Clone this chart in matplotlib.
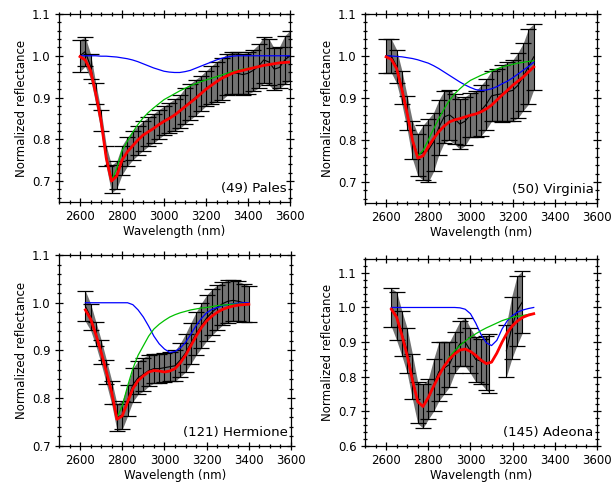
import numpy as np
import matplotlib
matplotlib.use('Agg')
import matplotlib.pyplot as plt
from matplotlib.ticker import MultipleLocator, FormatStrFormatter

# ---- (49) Pales ----
pales_wl = [2600, 2625, 2650, 2675, 2700, 2725, 2750, 2775, 2800, 2825, 2850,
            2875, 2900, 2925, 2950, 2975, 3000, 3025, 3050, 3075, 3100, 3125,
            3150, 3175, 3200, 3225, 3250, 3275, 3300, 3325, 3350, 3375, 3400,
            3425, 3450, 3475, 3500, 3525, 3550, 3575, 3600]
pales_refl = [1.000, 1.010, 0.975, 0.910, 0.845, 0.760, 0.705, 0.715, 0.750, 0.770,
              0.785, 0.797, 0.808, 0.818, 0.826, 0.836, 0.845, 0.852, 0.858, 0.866,
              0.880, 0.890, 0.900, 0.910, 0.922, 0.930, 0.938, 0.944, 0.955, 0.958,
              0.958, 0.955, 0.958, 0.965, 0.975, 0.990, 0.985, 0.968, 0.972, 0.990,
              1.000]
pales_err = [0.038, 0.035, 0.030, 0.025, 0.025, 0.025, 0.033, 0.033, 0.035, 0.035,
             0.035, 0.035, 0.035, 0.035, 0.035, 0.035, 0.034, 0.036, 0.038, 0.040,
             0.043, 0.043, 0.043, 0.042, 0.042, 0.045, 0.048, 0.050, 0.050, 0.050,
             0.050, 0.050, 0.050, 0.050, 0.052, 0.055, 0.055, 0.050, 0.050, 0.058,
             0.060]
pales_model_wl = pales_wl
pales_total = [0.998, 0.990, 0.965, 0.910, 0.845, 0.755, 0.700, 0.712, 0.750, 0.770,
               0.784, 0.798, 0.810, 0.818, 0.826, 0.835, 0.843, 0.850, 0.858, 0.868,
               0.878, 0.888, 0.898, 0.909, 0.920, 0.929, 0.938, 0.946, 0.952, 0.958,
               0.962, 0.965, 0.968, 0.971, 0.974, 0.977, 0.979, 0.981, 0.983, 0.984,
               0.985]
pales_oh = [0.998, 0.990, 0.965, 0.910, 0.845, 0.755, 0.702, 0.730, 0.772, 0.795,
            0.816, 0.835, 0.851, 0.864, 0.875, 0.885, 0.895, 0.902, 0.909, 0.916,
            0.922, 0.928, 0.933, 0.938, 0.942, 0.946, 0.950, 0.954, 0.958, 0.962,
            0.965, 0.968, 0.970, 0.972, 0.974, 0.977, 0.979, 0.981, 0.983, 0.984,
            0.985]
pales_h2o = [1.000, 1.000, 1.000, 1.000, 0.999, 0.999, 0.998, 0.997, 0.995, 0.993,
             0.990, 0.986, 0.981, 0.976, 0.971, 0.967, 0.963, 0.961, 0.960, 0.960,
             0.962, 0.965, 0.970, 0.975, 0.980, 0.985, 0.990, 0.994, 0.997, 0.999,
             1.000, 1.000, 1.000, 1.000, 1.000, 1.000, 1.000, 1.000, 1.000, 1.000,
             1.000]

# ---- (50) Virginia ----
virginia_wl = [2600, 2625, 2650, 2675, 2700, 2725, 2750, 2775, 2800, 2825, 2850,
               2875, 2900, 2925, 2950, 2975, 3000, 3025, 3050, 3075, 3100, 3125,
               3150, 3175, 3200, 3225, 3250, 3275, 3300]
virginia_refl = [1.000, 1.000, 0.975, 0.925, 0.865, 0.800, 0.765, 0.770, 0.775, 0.795,
                 0.830, 0.855, 0.860, 0.850, 0.838, 0.845, 0.860, 0.862, 0.870, 0.885,
                 0.905, 0.908, 0.910, 0.915, 0.918, 0.930, 0.950, 0.975, 0.998]
virginia_err = [0.040, 0.040, 0.040, 0.040, 0.040, 0.045, 0.050, 0.065, 0.075, 0.070,
                0.065, 0.062, 0.060, 0.060, 0.060, 0.058, 0.052, 0.055, 0.060, 0.060,
                0.060, 0.062, 0.068, 0.070, 0.072, 0.078, 0.080, 0.090, 0.078]
virginia_model_wl = virginia_wl
virginia_total = [0.998, 0.992, 0.970, 0.920, 0.863, 0.800, 0.757, 0.762, 0.784, 0.803,
                  0.820, 0.833, 0.843, 0.848, 0.851, 0.855, 0.859, 0.862, 0.867, 0.874,
                  0.883, 0.895, 0.907, 0.918, 0.930, 0.940, 0.950, 0.962, 0.974]
virginia_oh = [0.998, 0.992, 0.970, 0.920, 0.864, 0.802, 0.762, 0.775, 0.800, 0.826,
               0.851, 0.874, 0.894, 0.910, 0.922, 0.933, 0.942, 0.948, 0.954, 0.959,
               0.964, 0.969, 0.974, 0.977, 0.980, 0.983, 0.985, 0.987, 0.989]
virginia_h2o = [1.000, 1.000, 0.999, 0.998, 0.996, 0.994, 0.991, 0.987, 0.983, 0.977,
                0.970, 0.962, 0.954, 0.946, 0.938, 0.931, 0.925, 0.920, 0.918, 0.919,
                0.922, 0.927, 0.934, 0.940, 0.948, 0.957, 0.966, 0.975, 0.985]

# ---- (121) Hermione ----
hermione_wl = [2625, 2650, 2675, 2700, 2725, 2750, 2775, 2800, 2825, 2850, 2875,
               2900, 2925, 2950, 2975, 3000, 3025, 3050, 3075, 3100, 3125, 3150,
               3175, 3200, 3225, 3250, 3275, 3300, 3325, 3350, 3375, 3400]
hermione_refl = [0.993, 0.970, 0.935, 0.897, 0.855, 0.812, 0.760, 0.765, 0.795, 0.828,
                 0.843, 0.850, 0.858, 0.862, 0.862, 0.864, 0.866, 0.868, 0.880, 0.895,
                 0.915, 0.935, 0.952, 0.968, 0.980, 0.990, 0.998, 1.003, 1.005, 1.003,
                 1.000, 0.998]
hermione_err = [0.032, 0.028, 0.025, 0.025, 0.025, 0.025, 0.028, 0.030, 0.032, 0.035,
                0.035, 0.035, 0.033, 0.030, 0.030, 0.030, 0.030, 0.032, 0.035, 0.040,
                0.043, 0.045, 0.047, 0.048, 0.048, 0.047, 0.045, 0.045, 0.043, 0.042,
                0.040, 0.038]
hermione_model_wl = hermione_wl
hermione_total = [0.985, 0.966, 0.933, 0.896, 0.855, 0.812, 0.756, 0.763, 0.792, 0.820,
                  0.837, 0.847, 0.855, 0.858, 0.857, 0.855, 0.857, 0.862, 0.874, 0.890,
                  0.910, 0.930, 0.948, 0.962, 0.972, 0.980, 0.986, 0.990, 0.993, 0.995,
                  0.996, 0.997]
hermione_oh = [0.986, 0.966, 0.933, 0.896, 0.855, 0.812, 0.760, 0.784, 0.825, 0.862,
               0.890, 0.910, 0.930, 0.945, 0.955, 0.963, 0.970, 0.975, 0.979, 0.982,
               0.985, 0.987, 0.989, 0.990, 0.992, 0.994, 0.995, 0.996, 0.997, 0.997,
               0.998, 0.998]
hermione_h2o = [1.000, 1.000, 1.000, 1.000, 1.000, 1.000, 1.000, 1.000, 1.000, 0.996,
                0.985, 0.970, 0.951, 0.930, 0.914, 0.903, 0.896, 0.898, 0.905, 0.917,
                0.934, 0.952, 0.967, 0.979, 0.986, 0.990, 0.994, 0.996, 0.998, 0.999,
                1.000, 1.000]

# ---- (145) Adeona ----
adeona_wl = [2625, 2650, 2675, 2700, 2725, 2750, 2775, 2800, 2825, 2850, 2875,
             2900, 2925, 2950, 2975, 3000, 3025, 3050, 3075, 3090,
             3170, 3195, 3220, 3245]
adeona_refl = [1.000, 0.975, 0.925, 0.875, 0.800, 0.725, 0.715, 0.735, 0.775, 0.815,
               0.825, 0.835, 0.870, 0.895, 0.900, 0.875, 0.850, 0.845, 0.840, 0.838,
               0.875, 0.940, 0.990, 1.015]
adeona_err = [0.055, 0.070, 0.065, 0.065, 0.065, 0.060, 0.063, 0.058, 0.075, 0.085,
              0.075, 0.065, 0.060, 0.065, 0.070, 0.065, 0.065, 0.065, 0.078, 0.085,
              0.075, 0.090, 0.100, 0.090]
adeona_model_wl = [2625, 2650, 2675, 2700, 2725, 2750, 2775, 2800, 2825, 2850, 2875,
                   2900, 2925, 2950, 2975, 3000, 3025, 3050, 3075, 3100, 3125, 3150,
                   3175, 3200, 3225, 3250, 3275, 3300]
adeona_total = [0.995, 0.972, 0.920, 0.861, 0.790, 0.728, 0.714, 0.740, 0.772, 0.803,
                0.830, 0.851, 0.866, 0.877, 0.880, 0.873, 0.862, 0.848, 0.838, 0.842,
                0.868, 0.900, 0.928, 0.948, 0.962, 0.972, 0.978, 0.982]
adeona_oh = [0.995, 0.972, 0.920, 0.861, 0.790, 0.728, 0.714, 0.740, 0.772, 0.803,
             0.831, 0.857, 0.875, 0.890, 0.903, 0.914, 0.924, 0.933, 0.941, 0.948,
             0.955, 0.962, 0.967, 0.972, 0.975, 0.977, 0.980, 0.982]
adeona_h2o = [1.000, 1.000, 1.000, 1.000, 1.000, 1.000, 1.000, 1.000, 1.000, 1.000,
              1.000, 1.000, 1.000, 0.999, 0.995, 0.982, 0.955, 0.922, 0.898, 0.890,
              0.905, 0.938, 0.962, 0.977, 0.987, 0.993, 0.997, 1.000]

W, H = 612, 493


def segments(wl):
    # split where the data has a gap
    wl = np.asarray(wl)
    cuts = np.where(np.diff(wl) > 40)[0] + 1
    return np.split(np.arange(len(wl)), cuts)


def draw_panel(rect, wl, refl, err, mwl, total, oh, h2o, label, ylim):
    left, top, right, bottom = rect
    ax = fig.add_axes([left / W, 1 - bottom / H, (right - left) / W, (bottom - top) / H])
    wl = np.asarray(wl, float)
    refl = np.asarray(refl)
    err = np.asarray(err)

    for idx in segments(wl):
        ax.fill_between(wl[idx], refl[idx] - err[idx], refl[idx] + err[idx],
                        color='0.45', lw=0, zorder=1)
        ax.plot(wl[idx], refl[idx], color='black', lw=0.8, zorder=3)
    ax.errorbar(wl, refl, yerr=err, fmt='none', ecolor='black', elinewidth=0.8,
                capsize=6, capthick=0.9, zorder=2)

    ax.plot(mwl, h2o, color='#0000ff', lw=0.9, zorder=4)
    ax.plot(mwl, oh, color='#00c000', lw=0.9, zorder=5)
    ax.plot(mwl, total, color='#ff0000', lw=2.0, zorder=6)

    ax.set_xlim(2500, 3600)
    ax.set_ylim(*ylim)
    ax.xaxis.set_major_locator(MultipleLocator(200))
    ax.xaxis.set_minor_locator(MultipleLocator(50))
    ax.yaxis.set_major_locator(MultipleLocator(0.1))
    ax.yaxis.set_minor_locator(MultipleLocator(0.02))
    ax.yaxis.set_major_formatter(FormatStrFormatter('%.1f'))
    ax.tick_params(which='both', direction='inout', top=True, right=True,
                   width=0.9, labelsize=8.5, pad=3)
    ax.tick_params(which='major', length=6)
    ax.tick_params(which='minor', length=3.5)
    for s in ax.spines.values():
        s.set_linewidth(0.9)
    ax.set_xlabel('Wavelength (nm)', fontsize=8.5, labelpad=1)
    ax.set_ylabel('Normalized reflectance', fontsize=8.5, labelpad=3)
    ax.text(0.985, 0.035, label, transform=ax.transAxes, ha='right', va='bottom',
            fontsize=9.5)
    return ax


fig = plt.figure(figsize=(W / 100, H / 100), dpi=100)

draw_panel((59, 14, 290, 202), pales_wl, pales_refl, pales_err, pales_model_wl,
           pales_total, pales_oh, pales_h2o, '(49) Pales', (0.65, 1.1))
draw_panel((365, 14, 597, 203), virginia_wl, virginia_refl, virginia_err,
           virginia_model_wl, virginia_total, virginia_oh, virginia_h2o,
           '(50) Virginia', (0.65, 1.1))
draw_panel((59, 255, 291, 446), hermione_wl, hermione_refl, hermione_err,
           hermione_model_wl, hermione_total, hermione_oh, hermione_h2o,
           '(121) Hermione', (0.7, 1.1))
draw_panel((365, 259, 597, 446), adeona_wl, adeona_refl, adeona_err,
           adeona_model_wl, adeona_total, adeona_oh, adeona_h2o,
           '(145) Adeona', (0.6, 1.14))

fig.savefig('out.png', dpi=100)
